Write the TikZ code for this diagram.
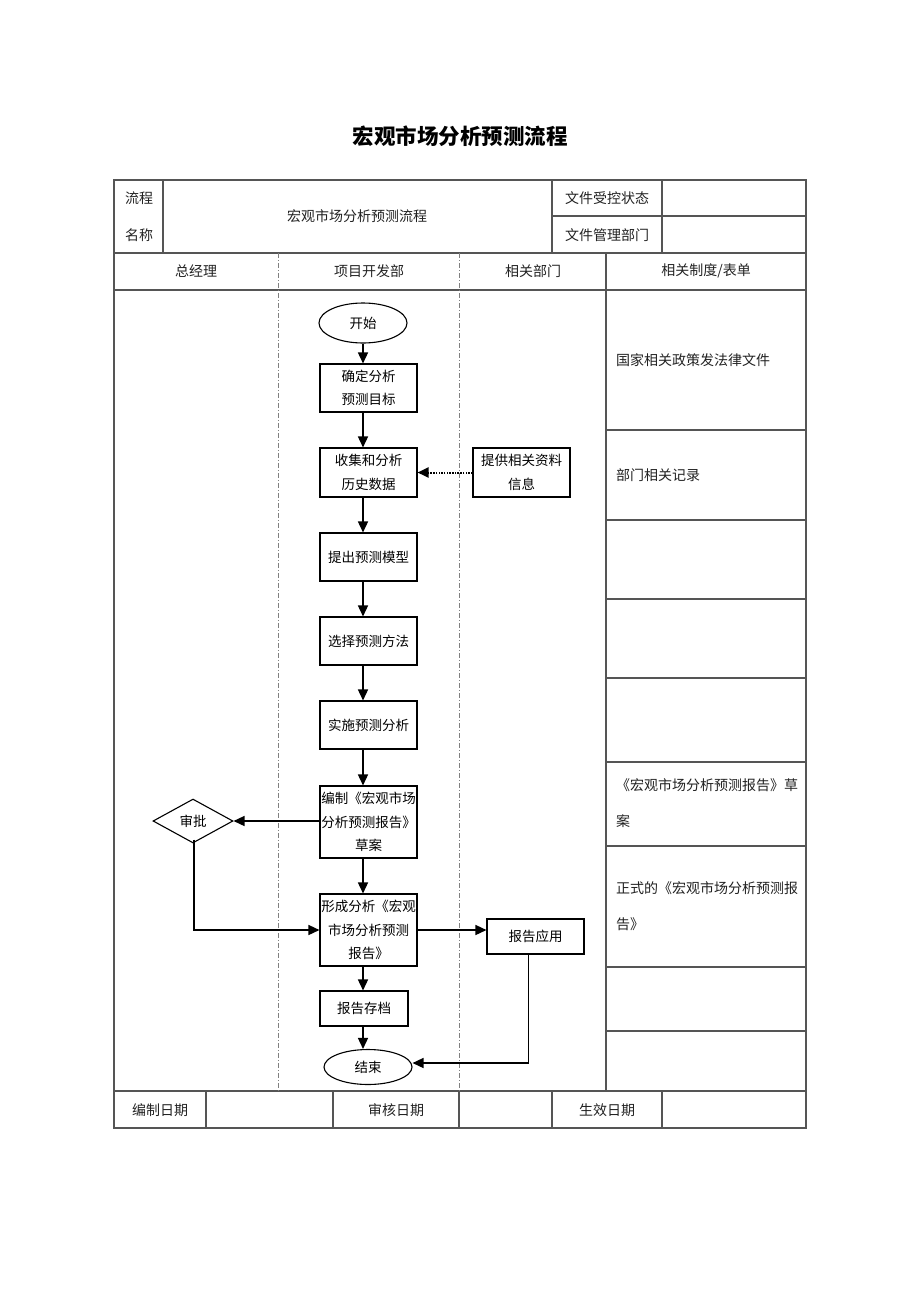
\documentclass[tikz,border=0pt]{standalone}
\usepackage{fontspec}
\setmainfont{Noto Sans CJK SC}
\usetikzlibrary{shapes.geometric,arrows.meta}
\definecolor{linec}{HTML}{555555}
\definecolor{dashc}{HTML}{808080}
\definecolor{txtc}{HTML}{222222}
\tikzset{
  tline/.style={draw=linec,line width=1.2pt},
  dline/.style={draw=dashc,line width=1pt,dash pattern=on 5pt off 2pt on 1pt off 2pt},
  ttext/.style={text=txtc,font=\fontsize{14}{36}\selectfont,inner sep=0pt},
  ltext/.style={ttext,anchor=west,align=left},
  proc/.style={draw=black,line width=1.1pt,minimum width=97pt,minimum height=48pt,align=center,inner sep=0pt,font=\fontsize{13.5}{23.5}\selectfont},
  term/.style={draw=black,line width=1.1pt,ellipse,minimum width=88pt,minimum height=40pt,inner sep=0pt,font=\fontsize{13.5}{16}\selectfont},
  dec/.style={draw=black,line width=1.1pt,diamond,minimum width=80pt,minimum height=44pt,inner sep=0pt,aspect=1.8,font=\fontsize{13.5}{16}\selectfont},
  arr/.style={draw=black,line width=1.5pt,-{Triangle[length=11pt,width=10pt]}},
  darr/.style={draw=black,line width=2pt,dash pattern=on 1.5pt off 1.2pt,-{Triangle[length=11pt,width=10pt]}}
}
\begin{document}
\begin{tikzpicture}[x=1pt,y=-1pt]
\useasboundingbox[fill=white] (0,0) rectangle (920,1302);
% title
\node[font=\fontsize{21.5}{24}\selectfont\bfseries,inner sep=0pt] (title) at (460,136) {宏观市场分析预测流程};
% table frame
\draw[tline] (114,180) rectangle (806,1128);
\draw[tline] (114,253) -- (806,253);
\draw[tline] (114,290) -- (806,290);
\draw[tline] (114,1091) -- (806,1091);
\draw[tline] (552,216) -- (806,216);
\draw[tline] (163,180) -- (163,253);
\draw[tline] (552,180) -- (552,253);
\draw[tline] (662,180) -- (662,253);
\draw[dline] (278,253) -- (278,1091);
\draw[dline] (459,253) -- (459,1091);
\draw[tline] (606,253) -- (606,1091);
\foreach \yy in {430,520,599,678,762,846,967,1031} \draw[tline] (606,\yy) -- (806,\yy);
\foreach \xx in {206,333,459,552,662} \draw[tline] (\xx,1091) -- (\xx,1128);
% table texts
\node[ttext] (t1) at (139,198) {流程};
\node[ttext] (t2) at (139,235) {名称};
\node[ttext] (t3) at (357,216) {宏观市场分析预测流程};
\node[ttext] (t4) at (607,198) {文件受控状态};
\node[ttext] (t5) at (607,235) {文件管理部门};
\node[ttext] (h1) at (196,271) {总经理};
\node[ttext] (h2) at (369,271) {项目开发部};
\node[ttext] (h3) at (533,271) {相关部门};
\node[ttext] (h4) at (706,271) {相关制度/表单};
\node[ltext] (r1) at (616,360) {国家相关政策发法律文件};
\node[ltext] (r2) at (616,475) {部门相关记录};
\node[ltext] (r3) at (616,803) {《宏观市场分析预测报告》草\\案};
\node[ltext] (r4) at (616,906) {正式的《宏观市场分析预测报\\告》};
\node[ttext] (b1) at (160,1110) {编制日期};
\node[ttext] (b2) at (396,1110) {审核日期};
\node[ttext] (b3) at (607,1110) {生效日期};
% flow nodes
\node[term] (start) at (363,323) {开始};
\node[proc] (n1) at (368.5,388) {确定分析\\预测目标};
\node[proc,minimum height=49pt] (n2) at (368.5,472.5) {收集和分析\\历史数据};
\node[proc,minimum height=49pt] (p1) at (521.5,472.5) {提供相关资料\\信息};
\node[proc] (n3) at (368.5,557) {提出预测模型};
\node[proc] (n4) at (368.5,641) {选择预测方法};
\node[proc] (n5) at (368.5,725) {实施预测分析};
\node[proc,minimum height=72pt] (n6) at (368.5,822) {编制《宏观市场\\分析预测报告》\\草案};
\node[dec] (d1) at (193,821) {审批};
\node[proc,minimum height=72pt] (n7) at (368.5,930) {形成分析《宏观\\市场分析预测\\报告》};
\node[proc,minimum height=35pt] (a1) at (535.5,936.5) {报告应用};
\node[proc,minimum width=88pt,minimum height=35pt] (n8) at (364,1008.5) {报告存档};
\node[term,minimum height=35pt] (stop) at (368,1067) {结束};
% connectors
\coordinate (ax) at (363,0);
\draw[arr] (start.south -| ax) -- (n1.north -| ax);
\draw[arr] (n1.south -| ax) -- (n2.north -| ax);
\draw[darr] (p1.west) -- (n2.east);
\draw[arr] (n2.south -| ax) -- (n3.north -| ax);
\draw[arr] (n3.south -| ax) -- (n4.north -| ax);
\draw[arr] (n4.south -| ax) -- (n5.north -| ax);
\draw[arr] (n5.south -| ax) -- (n6.north -| ax);
\draw[arr] (n6.west |- d1.east) -- (d1.east);
\draw[arr] (n6.south -| ax) -- (n7.north -| ax);
\draw[arr] ([xshift=1pt,yshift=4pt]d1.south) -- ([xshift=1pt]d1.south |- n7.west) -- (n7.west);
\draw[arr] (n7.east) -- (n7.east -| a1.west);
\draw[arr] (n7.south -| ax) -- (n8.north -| ax);
\draw[arr] (n8.south -| ax) -- (stop.north -| ax);
\coordinate (ay) at (0,1063);
\draw[arr] ([xshift=-7pt]a1.south) -- ([xshift=-7pt]a1.south |- ay) -- (stop.east |- ay);
\end{tikzpicture}
\end{document}
